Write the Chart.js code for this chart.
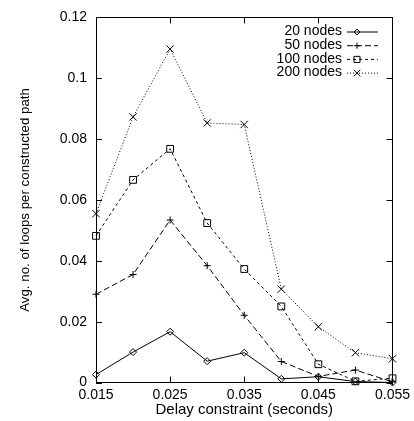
<!DOCTYPE html>
<html>
<head>
<meta charset="utf-8">
<script src="https://cdn.jsdelivr.net/npm/chart.js@4"></script>
<style>
  html, body { margin: 0; padding: 0; background: #fff; }
  #wrap { width: 414px; height: 421px; }
</style>
</head>
<body>
<div id="wrap"><canvas id="loops_canvas"></canvas></div>
<script>
// delay constraint (seconds)
var delays = [0.015, 0.02, 0.025, 0.03, 0.035, 0.04, 0.045, 0.05, 0.055];
// avg. no. of loops per constructed path
var nodes20  = [0.0026, 0.0100, 0.0167, 0.0070, 0.0098, 0.0012, 0.0019, 0.0003, 0.0000];
var nodes50  = [0.0290, 0.0355, 0.0534, 0.0384, 0.0221, 0.0069, 0.0020, 0.0041, 0.0002];
var nodes100 = [0.0482, 0.0666, 0.0768, 0.0524, 0.0373, 0.0250, 0.0060, 0.0004, 0.0014];
var nodes200 = [0.0555, 0.0873, 0.1096, 0.0853, 0.0848, 0.0307, 0.0183, 0.0098, 0.0078];

var xTicks = [0.015, 0.025, 0.035, 0.045, 0.055];
var yTicks = [0, 0.02, 0.04, 0.06, 0.08, 0.1, 0.12];

var FONT = 'Liberation Sans, Arial, sans-serif';

function pts(vals) {
  return vals.map(function(v, i) { return {x: delays[i], y: v}; });
}

function series(label, vals, dash, style, radius) {
  return {
    label: label,
    data: pts(vals),
    borderColor: '#000',
    borderWidth: 1,
    borderDash: dash,
    pointStyle: style,
    pointRadius: radius,
    pointBorderColor: '#000',
    pointBackgroundColor: 'rgba(0,0,0,0)',
    pointBorderWidth: 1,
    tension: 0,
    fill: false,
    clip: false
  };
}

var datasets = [
  series('20 nodes', nodes20, [], 'rectRot', 3.5),
  series('50 nodes', nodes50, [6, 3], 'cross', 3.5),
  series('100 nodes', nodes100, [3, 3], 'rect', 4.8),
  series('200 nodes', nodes200, [1, 2], 'crossRot', 5.2)
];

// gnuplot style frame, inward ticks and key
var framePlugin = {
  id: 'frame',
  afterDraw: function(chart) {
    var ctx = chart.ctx;
    var a = chart.chartArea;
    var xs = chart.scales.x, ys = chart.scales.y;
    ctx.save();
    ctx.strokeStyle = '#000';
    ctx.lineWidth = 1;
    ctx.setLineDash([]);
    ctx.strokeRect(Math.round(a.left) + 0.5, Math.round(a.top) + 0.5,
                   Math.round(a.right - a.left), Math.round(a.bottom - a.top));
    ctx.beginPath();
    xTicks.forEach(function(v) {
      var px = Math.round(xs.getPixelForValue(v)) + 0.5;
      ctx.moveTo(px, a.bottom); ctx.lineTo(px, a.bottom - 6);
      ctx.moveTo(px, a.top); ctx.lineTo(px, a.top + 6);
    });
    yTicks.forEach(function(v) {
      var py = Math.round(ys.getPixelForValue(v)) + 0.5;
      ctx.moveTo(a.left, py); ctx.lineTo(a.left + 6, py);
      ctx.moveTo(a.right, py); ctx.lineTo(a.right - 6, py);
    });
    ctx.stroke();

    // key
    var rows = [31.5, 45.2, 58.9, 72.6];
    ctx.font = '14px ' + FONT;
    ctx.textAlign = 'right';
    ctx.textBaseline = 'middle';
    chart.data.datasets.forEach(function(ds, i) {
      var y = rows[i];
      ctx.fillStyle = '#000';
      ctx.fillText(ds.label, 342, y);
      ctx.beginPath();
      ctx.setLineDash(ds.borderDash);
      ctx.moveTo(347, y + 0.5); ctx.lineTo(378, y + 0.5);
      ctx.stroke();
      ctx.setLineDash([]);
      ctx.fillStyle = 'rgba(0,0,0,0)';
      Chart.helpers.drawPoint(ctx, {
        pointStyle: ds.pointStyle, radius: ds.pointRadius - 0.5, rotation: 0,
        borderWidth: 1
      }, 357, y + 0.5);
    });
    ctx.restore();
  }
};

var ctx = document.getElementById('loops_canvas').getContext('2d');
var loopsChart = new Chart(ctx, {
  type: 'line',
  data: { datasets: datasets },
  plugins: [framePlugin],
  options: {
    responsive: true,
    maintainAspectRatio: false,
    animation: false,
    layout: { padding: { top: 9, right: 21, left: 0, bottom: 0 } },
    plugins: { legend: { display: false }, tooltip: { enabled: false } },
    scales: {
      x: {
        type: 'linear',
        min: 0.015,
        max: 0.055,
        afterBuildTicks: function(s) { s.ticks = xTicks.map(function(v) { return {value: v}; }); },
        afterFit: function(s) { s.height = 38.5; },
        grid: { display: false, drawTicks: false },
        border: { display: false },
        ticks: {
          color: '#000', font: { family: FONT, size: 14 }, padding: 4,
          maxRotation: 0, autoSkip: false,
          callback: function(v) { return String(+v.toFixed(3)); }
        },
        title: {
          display: true, text: 'Delay constraint (seconds)', color: '#000',
          font: { family: FONT, size: 15 }, padding: { top: 0, bottom: 2 }
        }
      },
      y: {
        type: 'linear',
        min: 0,
        max: 0.12,
        afterBuildTicks: function(s) { s.ticks = yTicks.map(function(v) { return {value: v}; }); },
        afterFit: function(s) { s.width = 96; },
        grid: { display: false, drawTicks: false },
        border: { display: false },
        ticks: {
          color: '#000', font: { family: FONT, size: 14 }, padding: 9,
          callback: function(v) { return String(+v.toFixed(2)); }
        },
        title: {
          display: true, text: 'Avg. no. of loops per constructed path', color: '#000',
          font: { family: FONT, size: 13.3 }, padding: { top: 17, bottom: 0 }
        }
      }
    }
  }
});
</script>
</body>
</html>
